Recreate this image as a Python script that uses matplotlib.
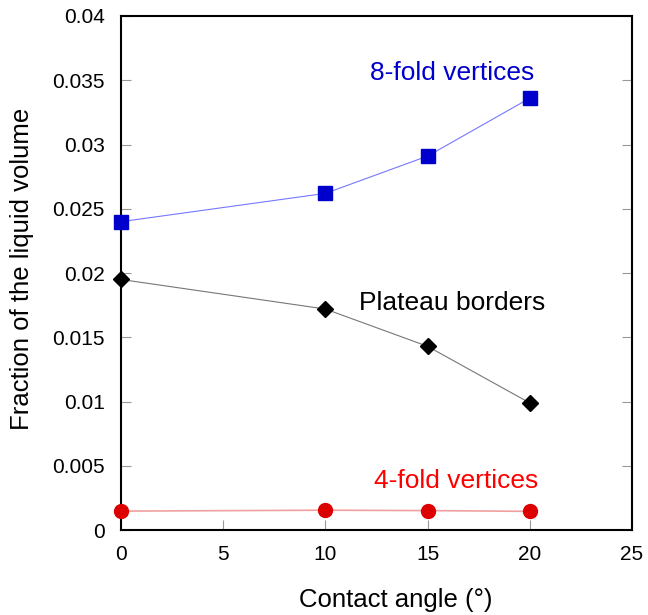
import matplotlib
matplotlib.use("Agg")
import matplotlib.pyplot as plt

plt.rcParams['font.family'] = ['Liberation Sans', 'DejaVu Sans']

# contact angle (deg)
angle = [0, 10, 15, 20]
# fraction of the liquid volume in each region
eight_fold = [0.0240, 0.0262, 0.0291, 0.0336]
plateau = [0.0195, 0.0172, 0.0143, 0.0099]
four_fold = [0.00148, 0.00155, 0.00152, 0.00146]

fig = plt.figure(figsize=(6.48, 6.15), dpi=100)
ax = fig.add_axes([0.187, 0.138, 0.788, 0.836])

ax.plot(angle, eight_fold, color='#7777ff', lw=0.8, zorder=2)
ax.plot(angle, eight_fold, 's', color='#0000cc', ms=10, clip_on=False, zorder=3)
ax.plot(angle, plateau, color='#777777', lw=0.8, zorder=2)
ax.plot(angle, plateau, 'D', color='black', ms=8, clip_on=False, zorder=3)
ax.plot(angle, four_fold, color='#f0a0a0', lw=1.2, zorder=2)
ax.plot(angle, four_fold, 'o', color='#dd0000', ms=10, clip_on=False, zorder=3)

ax.text(16.2, 0.0356, '8-fold vertices', color='#0000cc', fontsize=19, ha='center', va='center')
ax.text(16.2, 0.0177, 'Plateau borders', color='black', fontsize=19, ha='center', va='center')
ax.text(16.4, 0.0038, '4-fold vertices', color='#ff0000', fontsize=19, ha='center', va='center')

ax.set_xlim(0, 25)
ax.set_ylim(0, 0.04)
ax.set_xticks([0, 5, 10, 15, 20, 25])
ax.set_yticks([0, 0.005, 0.01, 0.015, 0.02, 0.025, 0.03, 0.035, 0.04])
ax.set_yticklabels(['0', '0.005', '0.01', '0.015', '0.02', '0.025', '0.03', '0.035', '0.04'])
ax.tick_params(direction='in', length=7, color='#999999', labelsize=15, right=True, pad=12)
ax.tick_params(axis='x', pad=11)
for s in ax.spines.values():
    s.set_linewidth(1.5)

ax.set_xlabel('Contact angle (°)', fontsize=18.5)
ax.set_ylabel('Fraction of the liquid volume', fontsize=18.5)
# labels sit a little off-centre in the original
ax.xaxis.set_label_coords(0.538, -0.113)
ax.yaxis.set_label_coords(-0.17, 0.508)

fig.savefig('out.png', dpi=100)
